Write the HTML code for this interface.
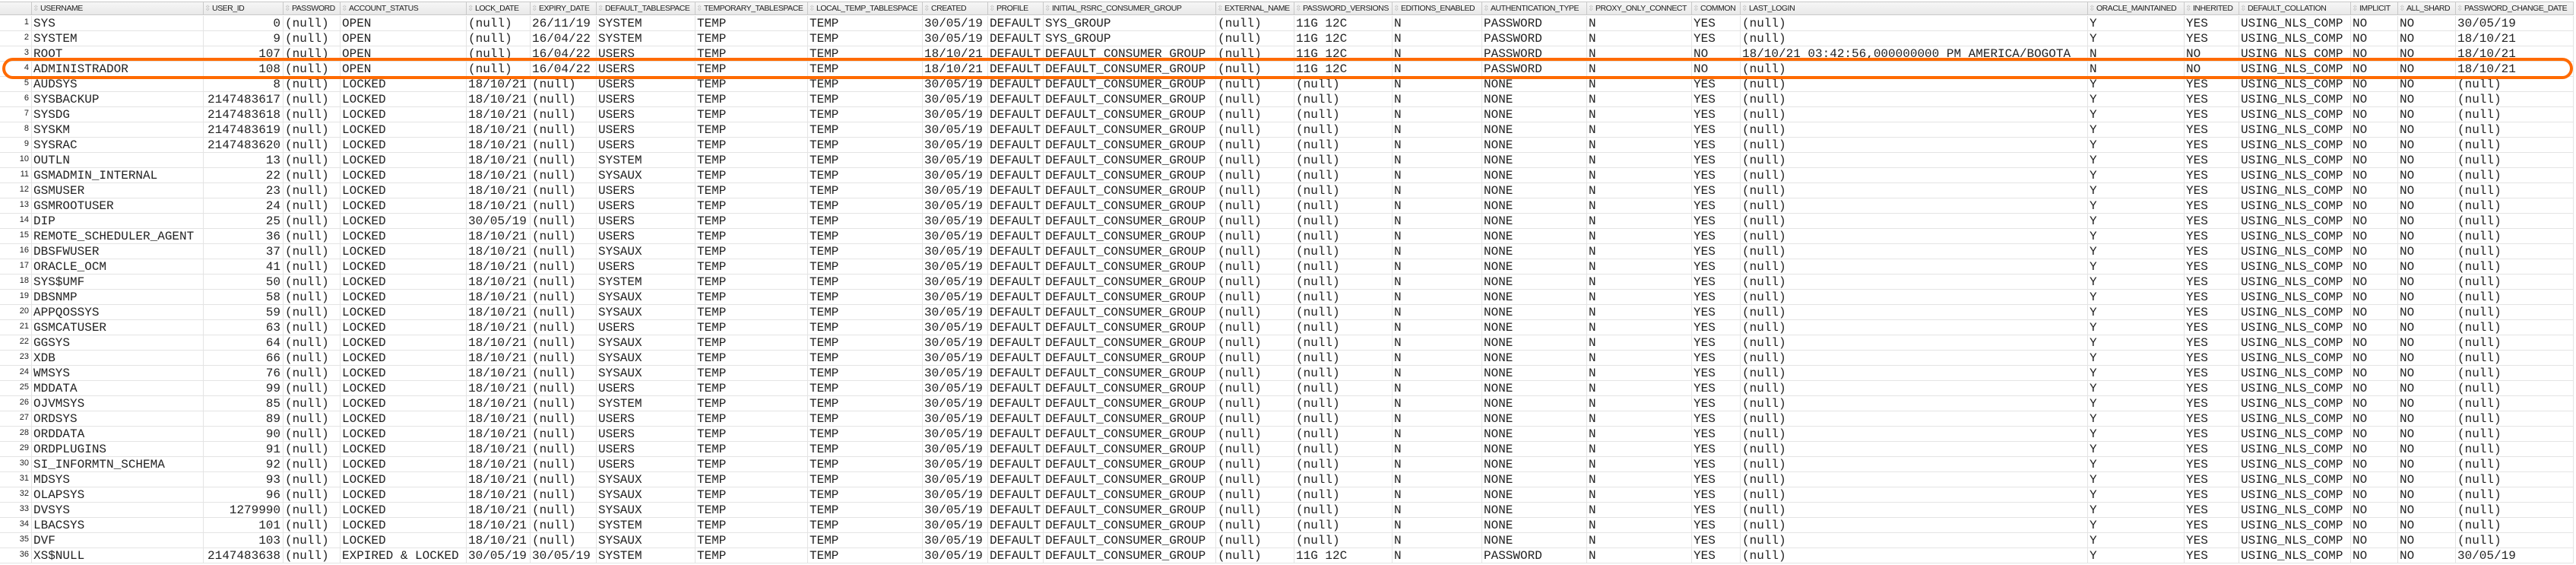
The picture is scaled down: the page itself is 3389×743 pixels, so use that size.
<!DOCTYPE html>
<html><head><meta charset="utf-8">
<style>
html,body{margin:0;padding:0;background:#fff;width:3389px;height:743px;overflow:hidden}
#grid{position:relative;width:3389px;height:743px}
.hd{position:absolute;top:2px;height:18px;background:linear-gradient(#f6f6f6,#e9e9e9);border-right:1px solid #c9c9c9;border-top:1px solid #c9c9c9;border-bottom:1px solid #c9c9c9;box-sizing:border-box;font:10.5px "Liberation Sans",sans-serif;color:#222;line-height:16px;white-space:nowrap;overflow:hidden;letter-spacing:-0.45px}
.hd .ic{color:#b8b8b8;font-size:10px;margin:0 2px 0 1px}
.cell{position:absolute;height:20px;box-sizing:border-box;border-right:1px solid #e4e4e4;border-bottom:1px solid #e4e4e4;font:16px "Liberation Mono",monospace;color:#222;line-height:21px;white-space:nowrap;overflow:hidden;padding-left:2px}
.num{text-align:right;padding-right:3px;padding-left:0}
.rn{position:absolute;height:20px;width:42px;box-sizing:border-box;border-bottom:1px solid #e4e4e4;border-right:1px solid #e4e4e4;font:11px "Liberation Sans",sans-serif;color:#222;text-align:right;padding-right:3px;line-height:16px}
#hl{position:absolute;left:3px;top:76px;width:3382px;height:28px;border:4px solid #ff6a00;border-radius:15px;box-sizing:border-box;pointer-events:none}
</style></head>
<body>
<div id="grid"></div>
<script>
const columns=["USERNAME","USER_ID","PASSWORD","ACCOUNT_STATUS","LOCK_DATE","EXPIRY_DATE","DEFAULT_TABLESPACE","TEMPORARY_TABLESPACE","LOCAL_TEMP_TABLESPACE","CREATED","PROFILE","INITIAL_RSRC_CONSUMER_GROUP","EXTERNAL_NAME","PASSWORD_VERSIONS","EDITIONS_ENABLED","AUTHENTICATION_TYPE","PROXY_ONLY_CONNECT","COMMON","LAST_LOGIN","ORACLE_MAINTAINED","INHERITED","DEFAULT_COLLATION","IMPLICIT","ALL_SHARD","PASSWORD_CHANGE_DATE"];
const colEdges=[42,268,373,448,614,698,785,915,1063,1214,1300,1373,1600,1703,1832,1950,2088,2226,2290,2747,2874,2946,3093,3155,3231,3386];
const rows=[
["SYS","0","(null)","OPEN","(null)","26/11/19","SYSTEM","TEMP","TEMP","30/05/19","DEFAULT","SYS_GROUP","(null)","11G 12C","N","PASSWORD","N","YES","(null)","Y","YES","USING_NLS_COMP","NO","NO","30/05/19"],
["SYSTEM","9","(null)","OPEN","(null)","16/04/22","SYSTEM","TEMP","TEMP","30/05/19","DEFAULT","SYS_GROUP","(null)","11G 12C","N","PASSWORD","N","YES","(null)","Y","YES","USING_NLS_COMP","NO","NO","18/10/21"],
["ROOT","107","(null)","OPEN","(null)","16/04/22","USERS","TEMP","TEMP","18/10/21","DEFAULT","DEFAULT_CONSUMER_GROUP","(null)","11G 12C","N","PASSWORD","N","NO","18/10/21 03:42:56,000000000 PM AMERICA/BOGOTA","N","NO","USING_NLS_COMP","NO","NO","18/10/21"],
["ADMINISTRADOR","108","(null)","OPEN","(null)","16/04/22","USERS","TEMP","TEMP","18/10/21","DEFAULT","DEFAULT_CONSUMER_GROUP","(null)","11G 12C","N","PASSWORD","N","NO","(null)","N","NO","USING_NLS_COMP","NO","NO","18/10/21"]
];
const lockedNames=["AUDSYS","SYSBACKUP","SYSDG","SYSKM","SYSRAC","OUTLN","GSMADMIN_INTERNAL","GSMUSER","GSMROOTUSER","DIP","REMOTE_SCHEDULER_AGENT","DBSFWUSER","ORACLE_OCM","SYS$UMF","DBSNMP","APPQOSSYS","GSMCATUSER","GGSYS","XDB","WMSYS","MDDATA","OJVMSYS","ORDSYS","ORDDATA","ORDPLUGINS","SI_INFORMTN_SCHEMA","MDSYS","OLAPSYS","DVSYS","LBACSYS","DVF"];
const lockedIds=["8","2147483617","2147483618","2147483619","2147483620","13","22","23","24","25","36","37","41","50","58","59","63","64","66","76","99","85","89","90","91","92","93","96","1279990","101","103"];
const lockedTs=["USERS","USERS","USERS","USERS","USERS","SYSTEM","SYSAUX","USERS","USERS","USERS","USERS","SYSAUX","USERS","SYSTEM","SYSAUX","SYSAUX","USERS","SYSAUX","SYSAUX","SYSAUX","USERS","SYSTEM","USERS","USERS","USERS","USERS","SYSAUX","SYSAUX","SYSAUX","SYSTEM","SYSAUX"];
lockedNames.forEach((n,i)=>{
  rows.push([n,lockedIds[i],"(null)","LOCKED",n==="DIP"?"30/05/19":"18/10/21","(null)",lockedTs[i],"TEMP","TEMP","30/05/19","DEFAULT","DEFAULT_CONSUMER_GROUP","(null)","(null)","N","NONE","N","YES","(null)","Y","YES","USING_NLS_COMP","NO","NO","(null)"]);
});
rows.push(["XS$NULL","2147483638","(null)","EXPIRED & LOCKED","30/05/19","30/05/19","SYSTEM","TEMP","TEMP","30/05/19","DEFAULT","DEFAULT_CONSUMER_GROUP","(null)","11G 12C","N","PASSWORD","N","YES","(null)","Y","YES","USING_NLS_COMP","NO","NO","30/05/19"]);

const g=document.getElementById('grid');
const HEAD=20.7, RH=20;
const corner=document.createElement('div');
corner.className='hd';corner.style.left='0px';corner.style.width='42px';


g.appendChild(corner);
columns.forEach((c,j)=>{
  const h=document.createElement('div');
  h.className='hd';
  h.style.left=colEdges[j]+'px';
  h.style.width=(colEdges[j+1]-colEdges[j])+'px';
  h.innerHTML='<span class="ic">⇳</span>'+c;
  
  
  g.appendChild(h);
});
rows.forEach((r,i)=>{
  const top=HEAD+i*RH;
  const rn=document.createElement('div');
  rn.className='rn';rn.style.top=top+'px';rn.style.left='0px';
  rn.textContent=i+1;
  
  
  g.appendChild(rn);
  r.forEach((v,j)=>{
    const d=document.createElement('div');
    d.className='cell'+(j===1?' num':'');
    d.style.top=top+'px';
    d.style.left=colEdges[j]+'px';
    d.style.width=(colEdges[j+1]-colEdges[j])+'px';
    if(j===18) d.style.overflow='visible';
    d.textContent=v;
    
    
    g.appendChild(d);
  });
});
const hl=document.createElement('div');
hl.id='hl';


g.appendChild(hl);
</script>
</body></html>
